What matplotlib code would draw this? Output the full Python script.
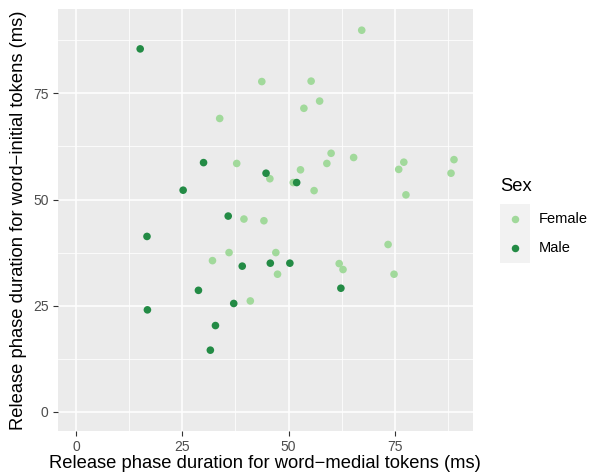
import matplotlib
matplotlib.use("Agg")
import matplotlib.pyplot as plt
from matplotlib.patches import Rectangle
from matplotlib.lines import Line2D

plt.rcParams['font.family'] = ['Liberation Sans', 'DejaVu Sans']

female_x = [43.7, 33.8, 37.8, 39.5, 44.2, 67.2, 55.3, 57.3, 53.6, 60.0,
            65.3, 59.0, 52.8, 45.6, 51.1, 56.0, 77.1, 75.9, 77.6, 88.9,
            88.2, 36.0, 32.1, 41.0, 47.0, 47.4, 61.9, 62.8, 73.4, 74.8]
female_y = [77.8, 69.1, 58.5, 45.4, 45.0, 89.9, 77.9, 73.2, 71.5, 60.9,
            59.9, 58.5, 57.0, 54.9, 54.0, 52.1, 58.8, 57.1, 51.1, 59.4,
            56.2, 37.5, 35.6, 26.1, 37.5, 32.4, 34.9, 33.5, 39.4, 32.4]
male_x = [15.1, 30.0, 44.7, 25.2, 35.8, 51.9, 16.7, 39.1, 28.8, 37.1,
          16.8, 32.8, 31.6, 45.7, 50.3, 62.3]
male_y = [85.5, 58.7, 56.2, 52.2, 46.1, 54.0, 41.3, 34.3, 28.6, 25.5,
          24.0, 20.3, 14.5, 35.0, 35.0, 29.1]

groups = ["Female", "Male"]
colors = {"Female": "#a1d99b", "Male": "#238b45"}
ticks = [0, 25, 50, 75]
minor = [12.5, 37.5, 62.5, 87.5]

W, H = 590, 474
fig = plt.figure(figsize=(W / 100, H / 100), dpi=100)
L, R, T, B = 57.7, 472.7, 9.0, 430.7
ax = fig.add_axes([L / W, 1 - B / H, (R - L) / W, (B - T) / H])
ax.set_facecolor("#ebebeb")
for s in ax.spines.values():
    s.set_visible(False)

ax.set_xlim(-4.3, 93.3)
ax.set_ylim(-4.48, 94.9)
for v in minor:
    ax.axvline(v, color="white", lw=0.55, zorder=0.5)
    ax.axhline(v, color="white", lw=0.55, zorder=0.5)
for v in ticks:
    ax.axvline(v, color="white", lw=1.1, zorder=0.6)
    ax.axhline(v, color="white", lw=1.1, zorder=0.6)

data = {"Female": (female_x, female_y), "Male": (male_x, male_y)}
for g in groups:
    xs, ys = data[g]
    ax.scatter(xs, ys, s=30, color=colors[g], edgecolors="none", zorder=3)

ax.set_xticks(ticks)
ax.set_yticks(ticks)
ax.set_xticklabels([str(t) for t in ticks])
ax.set_yticklabels([str(t) for t in ticks])
ax.tick_params(axis="both", length=3.5, width=0.8, color="#333333",
               labelcolor="#4d4d4d", labelsize=10, pad=3)
ax.tick_params(axis="x", pad=3.5)

fig.text(265 / W, 1 - 464 / H,
         "Release phase duration for word\u2212medial tokens (ms)",
         fontsize=13.2, color="black", ha="center", va="center")
fig.text(18.5 / W, 1 - ((T + B) / 2) / H,
         "Release phase duration for word\u2212initial tokens (ms)",
         fontsize=13.2, color="black", ha="center", va="center", rotation=90)

# legend
fig.text(500 / W, 1 - 186.5 / H, "Sex", fontsize=13.2, ha="left", va="center")
fig.add_artist(Rectangle((500 / W, 1 - 262.7 / H), 30 / W, 58.7 / H,
                         transform=fig.transFigure, facecolor="#f2f2f2",
                         edgecolor="none"))
for g, yc in zip(groups, [219.3, 248.3]):
    fig.add_artist(Line2D([515 / W], [1 - yc / H], marker="o", markersize=5.4,
                          color=colors[g], markeredgewidth=0, linestyle="none",
                          transform=fig.transFigure))
    fig.text(539 / W, 1 - yc / H, g, fontsize=10.5, ha="left", va="center")

fig.savefig("out.png", dpi=100)
